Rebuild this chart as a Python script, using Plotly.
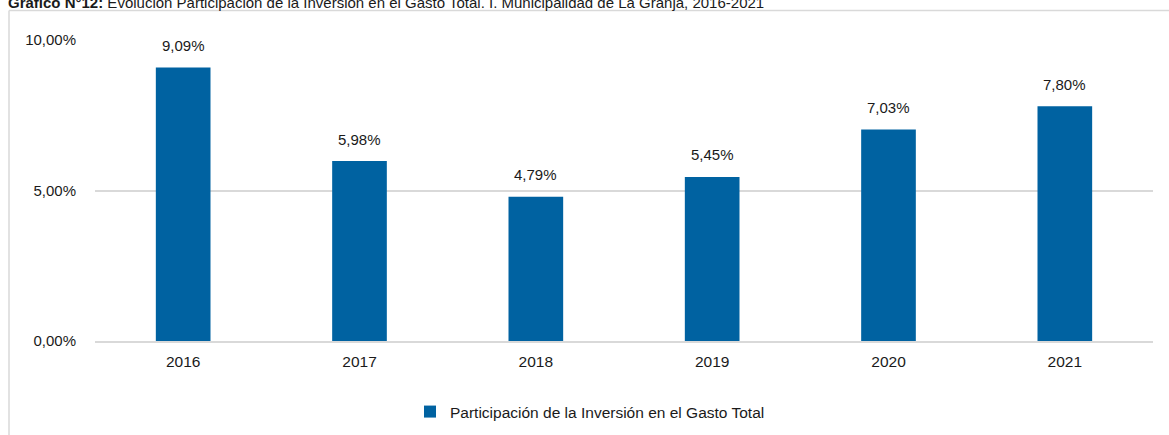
import plotly.graph_objects as go

years = ["2016", "2017", "2018", "2019", "2020", "2021"]
values = [9.09, 5.98, 4.79, 5.45, 7.03, 7.80]
y_ticks = [0, 5, 10]
series_name = "Participación de la Inversión en el Gasto Total"
title_bold = "Gráfico N°12:"
title_rest = " Evolución Participación de la Inversión en el Gasto Total. I. Municipalidad de La Granja, 2016-2021"

W, H = 1169, 435
L, R, T, B = 95, 16, 40, 94
pw, ph = W - L - R, H - T - B

def px_x(x):
    return (x - L) / pw

def px_y(y):
    return (H - B - y) / ph

def pct(v):
    return f"{v:.2f}%".replace(".", ",")

FONT = "Liberation Sans, Arial, sans-serif"
BAR = "#0062A1"
GRID = "#d9d9d9"
TXT = "#1a1a1a"

fig = go.Figure()
fig.add_trace(go.Bar(
    x=years, y=values, name=series_name,
    marker=dict(color=BAR, line=dict(width=0)),
    showlegend=True,
))

for i, v in enumerate(values):
    fig.add_annotation(
        x=i, y=v, xref="x", yref="y",
        text=pct(v),
        showarrow=False, yanchor="middle", yshift=22,
        font=dict(family=FONT, size=15, color=TXT),
    )

fig.add_annotation(
    xref="paper", yref="paper", x=px_x(6), y=px_y(2.5),
    xanchor="left", yanchor="middle", showarrow=False,
    text=f"<b>{title_bold}</b>{title_rest}",
    font=dict(family=FONT, size=15, color=TXT),
)

# frame border
fig.add_shape(type="line", xref="paper", yref="paper",
              x0=px_x(9), x1=px_x(1175), y0=px_y(10.5), y1=px_y(10.5),
              line=dict(color=GRID, width=1.5))
fig.add_shape(type="line", xref="paper", yref="paper",
              x0=px_x(9), x1=px_x(9), y0=px_y(10.5), y1=px_y(440),
              line=dict(color=GRID, width=1.5))

fig.update_layout(
    width=W, height=H,
    margin=dict(l=L, r=R, t=T, b=B, autoexpand=False),
    plot_bgcolor="white", paper_bgcolor="white",
    separators=",.",
    bargap=0.69,
    font=dict(family=FONT, size=15, color=TXT),
    legend=dict(orientation="h", x=px_x(410), xanchor="left",
                y=px_y(412), yanchor="middle",
                font=dict(family=FONT, size=15.5, color=TXT),
                itemwidth=30),
    xaxis=dict(type="category", range=[-0.5, len(years) - 0.5],
               showgrid=False, showline=True, linecolor=GRID,
               linewidth=1.5, ticks="", ticklabelstandoff=6, zeroline=False,
               automargin=False, tickfont=dict(family=FONT, size=15.5, color=TXT)),
    yaxis=dict(range=[0, 10], tickvals=y_ticks,
               ticktext=[pct(t) for t in y_ticks],
               showgrid=True, gridcolor=GRID, gridwidth=1.5,
               zeroline=False, showline=False, ticklabelstandoff=18,
               automargin=False, tickfont=dict(family=FONT, size=15, color=TXT)),
)

fig.write_html("out.html",
               config={"displayModeBar": False},
               post_script="document.body.style.margin='0';document.body.style.overflow='hidden';")
